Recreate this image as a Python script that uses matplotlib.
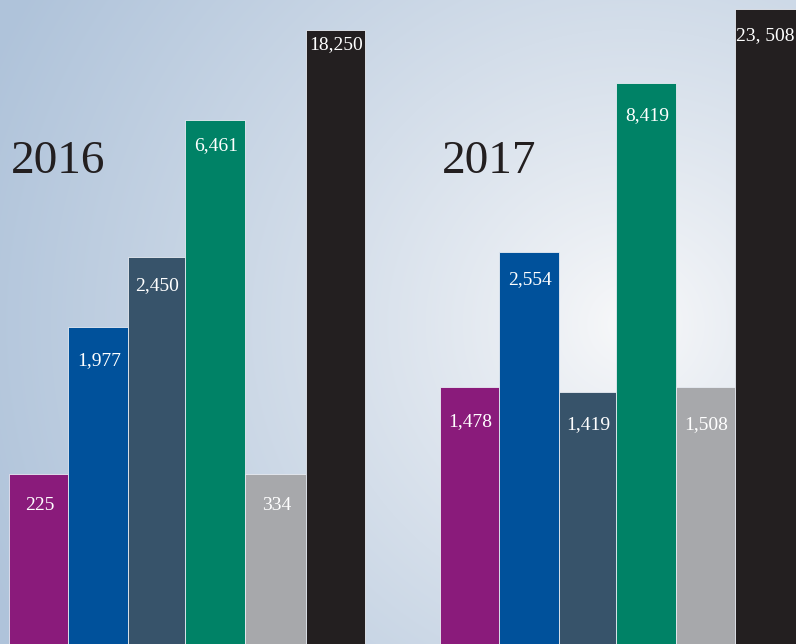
import matplotlib.pyplot as plt
import numpy as np
from matplotlib.colors import to_rgb

# ======================================================
# DATA
# ======================================================
YEARS = ["2016", "2017"]

LABELS_2016 = ["225", "1,977", "2,450", "6,461", "334", "18,250"]
LABELS_2017 = ["1,478", "2,554", "1,419", "8,419", "1,508", "23, 508"]

# bar heights as drawn in the graphic (not to scale with the values)
HEIGHTS_2016 = [170, 317, 387, 524, 170, 614]
HEIGHTS_2017 = [257, 392, 252, 561, 257, 635]

COLORS = ["#8a1b7b", "#00519b", "#37536a", "#008266", "#a7a8ab", "#231f20"]

# ======================================================
# LAYOUT
# ======================================================
W, H = 796, 644
BAR_LEFT = [
    [9, 68, 128, 185, 245, 306, 365],
    [440, 499, 559, 616, 676, 735, 800],
]
LABEL_DROP_2016 = [32, 34, 29, 26, 32, 15]
LABEL_DROP_2017 = [35, 28, 33, 33, 38, 27]
YEAR_POS = [(11, 162), (442, 162)]

plt.rcParams["font.family"] = ["Liberation Serif", "DejaVu Serif"]

fig = plt.figure(figsize=(W / 100, H / 100), dpi=100)
ax = fig.add_axes([0, 0, 1, 1])
ax.set_xlim(0, W)
ax.set_ylim(0, H)
ax.axis("off")

# background radial gradient
yy, xx = np.mgrid[0:H, 0:W]
d = np.sqrt((xx - 630) ** 2 + ((H - yy) - 320) ** 2 * 1.1)
t = np.clip(d / 700, 0, 1) ** 0.85
c_in = np.array(to_rgb("#f9f9fa"))
c_out = np.array(to_rgb("#afc3da"))
bg = c_in[None, None, :] * (1 - t[..., None]) + c_out[None, None, :] * t[..., None]
ax.imshow(bg, extent=[0, W, 0, H], origin="upper", zorder=0, aspect="auto")

for gi, (labels, heights, drops) in enumerate([
    (LABELS_2016, HEIGHTS_2016, LABEL_DROP_2016),
    (LABELS_2017, HEIGHTS_2017, LABEL_DROP_2017),
]):
    edges = np.array(BAR_LEFT[gi], dtype=float)
    xs = edges[:-1]
    widths = np.diff(edges)
    ax.bar(xs, heights, width=widths, align="edge", color=COLORS,
           edgecolor="#e8ecf3", linewidth=0.6, zorder=2)
    for x, w, h, lab, dr in zip(xs, widths, heights, labels, drops):
        if x + w > W:
            # last bar runs off the right edge: keep its label inside
            ax.text(W - 2, h - dr, lab, ha="right", va="center",
                    color="white", fontsize=14, zorder=3)
        else:
            ax.text(x + w / 2 + 1, h - dr, lab, ha="center", va="center",
                    color="white", fontsize=14, zorder=3)
    tx, ty = YEAR_POS[gi]
    ax.text(tx, H - ty, YEARS[gi], ha="left", va="center",
            color="#231f20", fontsize=34, zorder=3)

fig.savefig("out.png", dpi=100)
plt.close(fig)
